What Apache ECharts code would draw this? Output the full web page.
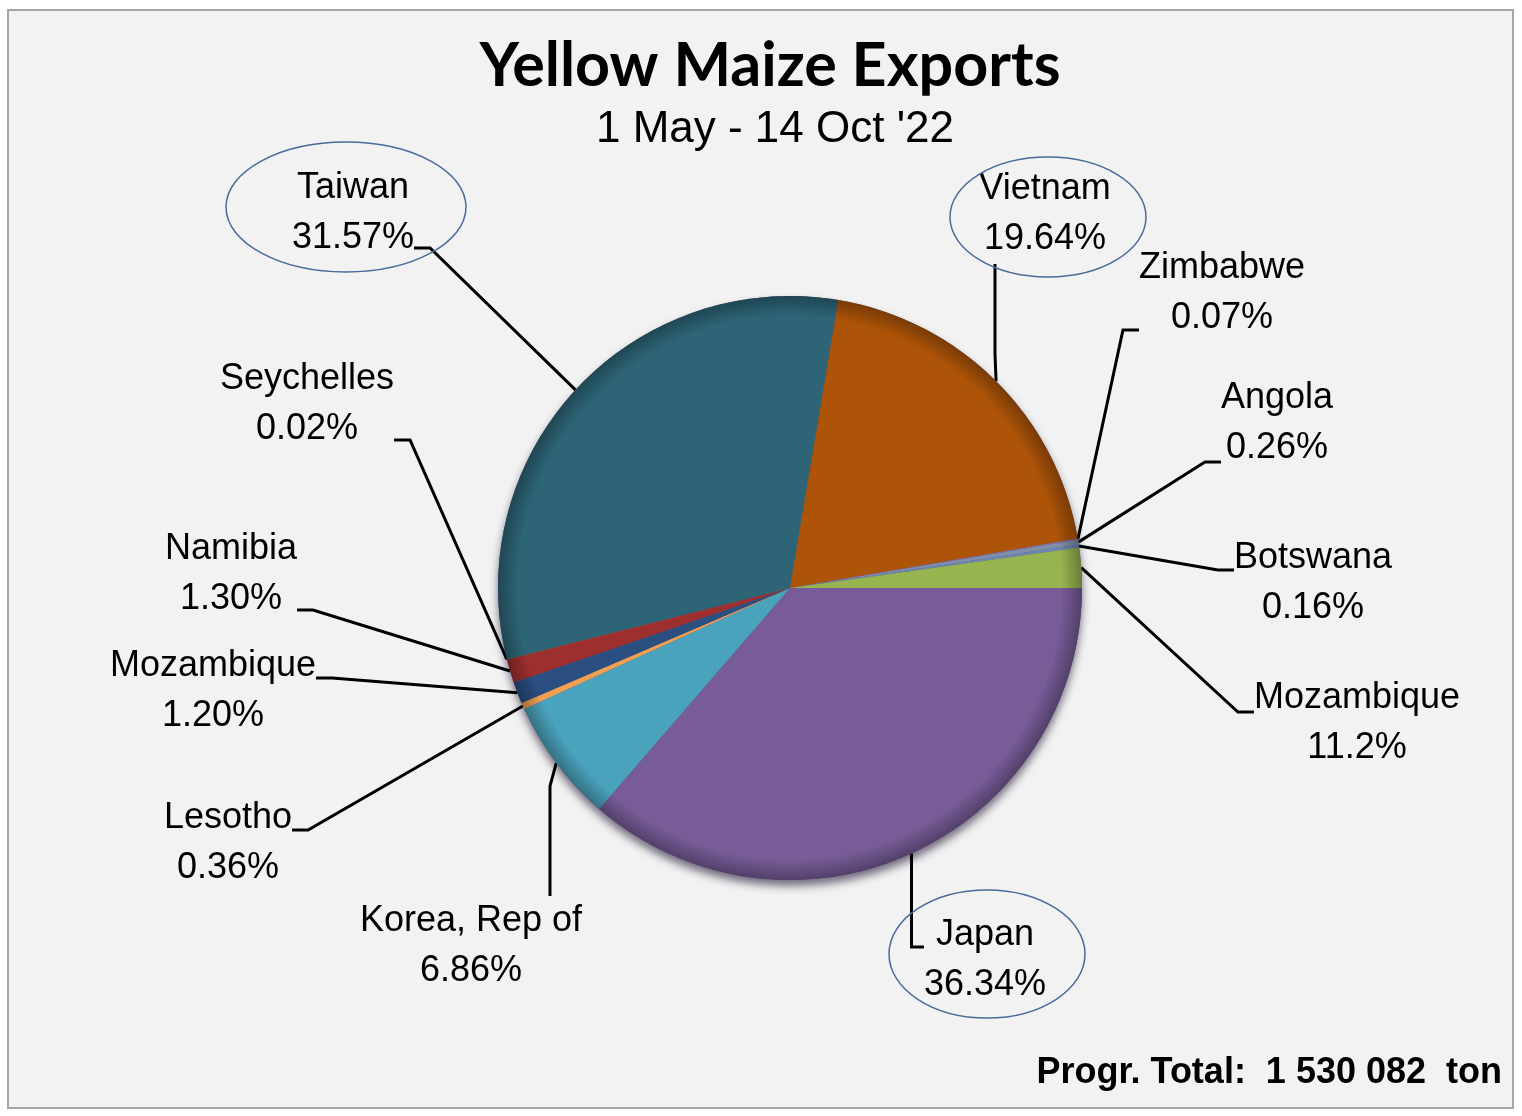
<!DOCTYPE html>
<html>
<head>
<meta charset="utf-8">
<title>Yellow Maize Exports</title>
<script src="https://cdn.jsdelivr.net/npm/echarts@6/dist/echarts.min.js"></script>
<style>
  html, body { margin: 0; padding: 0; background: #ffffff; }
  #chart { width: 1522px; height: 1116px; }
</style>
</head>
<body>
<div id="chart"></div>
<script>
// slices in clockwise order starting at 3 o'clock
const countries = ['Japan', 'Korea, Rep of', 'Lesotho', 'Mozambique', 'Namibia', 'Seychelles',
  'Taiwan', 'Vietnam', 'Zimbabwe', 'Angola', 'Botswana', 'Mozambique']
const shares = [36.34, 6.86, 0.36, 1.20, 1.30, 0.02, 31.57, 19.64, 0.07, 0.26, 0.16, 2.22]
// percentages as printed on the labels
const pctLabels = ['36.34%', '6.86%', '0.36%', '1.20%', '1.30%', '0.02%',
  '31.57%', '19.64%', '0.07%', '0.26%', '0.16%', '11.2%']

const colors = ['#775c98', '#4aa3bd', '#f0a050', '#2a4f80', '#9e2f2f', '#6e8a3a',
  '#2d6577', '#ad5408', '#8a6fa8', '#7f8fa9', '#6b87b8', '#98b450']

// text centres of the labels (px)
const labelPos = [
  [985, 960], [471, 946], [228, 843], [213, 691], [231, 574], [307, 404],
  [353, 213], [1045, 214], [1222, 293], [1277, 423], [1313, 583], [1357, 723]
]
// empty space [t, r, b, l] round each label so the leader line docks where the original does
// (t/b become spacer lines, r/l become padding)
const labelPad = [
  [26, 200, 0, 0], [0, 158, 0, 0], [26, 0, 0, 0], [26, 0, 0, 0], [0, 0, 72, 0], [0, 0, 72, 80],
  [0, 0, 70, 40], [0, 0, 0, 100], [0, 140, 74, 0], [0, 0, 78, 0], [26, 0, 0, 0], [22, 0, 0, 0]
]
const leaderLen = [16, 110, 16, 16, 16, 16, 16, 90, 16, 16, 16, 16]

const cx = 790, cy = 588, R = 292
const labelFont = 'Liberation Sans'

function darker(hex, k) {
  const n = parseInt(hex.slice(1), 16)
  const r = Math.round(((n >> 16) & 255) * k)
  const g = Math.round(((n >> 8) & 255) * k)
  const b = Math.round((n & 255) * k)
  return 'rgb(' + r + ',' + g + ',' + b + ')'
}

const pieData = shares.map((v, i) => {
  const pad = labelPad[i]
  return {
    name: countries[i],
    value: v,
    label: {
      padding: [0, pad[1], 0, pad[3]],
      rich: {
        t: { fontFamily: labelFont, fontSize: 36, lineHeight: 50, color: '#000' },
        top: { fontSize: 1, lineHeight: pad[0] || 1 },
        bot: { fontSize: 1, lineHeight: pad[2] || 1 }
      }
    },
    labelLine: { length2: leaderLen[i] },
    itemStyle: {
      color: {
        type: 'radial', x: cx, y: cy, r: R, global: true,
        colorStops: [
          { offset: 0, color: colors[i] },
          { offset: 0.93, color: colors[i] },
          { offset: 1, color: darker(colors[i], 0.7) }
        ]
      }
    }
  }
})

function labelText(p) {
  const pad = labelPad[p.dataIndex]
  let s = '{t|' + p.name + '}\n{t|' + pctLabels[p.dataIndex] + '}'
  if (pad[0]) s = '{top| }\n' + s
  if (pad[2]) s = s + '\n{bot| }'
  return s
}

const chart = echarts.init(document.getElementById('chart'))
chart.setOption({
  animation: false,
  graphic: [
    {
      type: 'rect', z: -10, silent: true,
      shape: { x: 8, y: 10, width: 1505, height: 1098 },
      style: { fill: '#f2f2f2', stroke: '#a6a6a6', lineWidth: 2 }
    },
    {
      type: 'text', x: 770, y: 66,
      style: { text: 'Yellow Maize Exports', fontFamily: 'Lato', fontWeight: 'bold', fontSize: 61, fill: '#000', align: 'center', verticalAlign: 'middle' }
    },
    {
      type: 'text', x: 775, y: 130,
      style: { text: "1 May - 14 Oct '22", fontFamily: labelFont, fontSize: 44, fill: '#000', align: 'center', verticalAlign: 'middle' }
    },
    {
      type: 'text', x: 1502, y: 1073,
      style: { text: 'Progr. Total:  1 530 082  ton', fontFamily: labelFont, fontWeight: 'bold', fontSize: 36, fill: '#000', align: 'right', verticalAlign: 'middle' }
    },
    // highlight ellipses round the three biggest labels
    { type: 'ellipse', z: 10, shape: { cx: 346, cy: 207, rx: 120, ry: 65 }, style: { fill: 'none', stroke: '#4a6a9c', lineWidth: 1.5 } },
    { type: 'ellipse', z: 10, shape: { cx: 1048, cy: 217, rx: 98, ry: 60 }, style: { fill: 'none', stroke: '#4a6a9c', lineWidth: 1.5 } },
    { type: 'ellipse', z: 10, shape: { cx: 987, cy: 954, rx: 98, ry: 64 }, style: { fill: 'none', stroke: '#4a6a9c', lineWidth: 1.5 } }
  ],
  series: [
    {
      // soft drop shadow under the pie
      type: 'pie', z: 1, silent: true,
      center: [cx, cy], radius: R,
      label: { show: false }, labelLine: { show: false },
      itemStyle: { color: '#5a4a70', shadowBlur: 8, shadowOffsetY: 6, shadowColor: 'rgba(30,20,50,0.6)' },
      data: [{ value: 1 }]
    },
    {
      type: 'pie', z: 2,
      center: [cx, cy], radius: R,
      startAngle: 0, clockwise: true,
      avoidLabelOverlap: false,
      itemStyle: { borderWidth: 0 },
      label: {
        show: true,
        position: 'outside',
        formatter: labelText,
        fontFamily: labelFont,
        fontSize: 36,
        color: '#000',
        backgroundColor: 'rgba(0,0,0,0)'
      },
      labelLine: {
        show: true, length: 10, length2: 16,
        lineStyle: { color: '#000', width: 3 }
      },
      labelLayout: function (params) {
        const i = params.dataIndex
        const p = labelPos[i], pad = labelPad[i]
        return {
          x: p[0] - (pad[3] - pad[1]) / 2,
          y: p[1] - (pad[0] - pad[2]) / 2,
          align: 'center',
          verticalAlign: 'middle'
        }
      },
      data: pieData
    }
  ]
})
</script>
</body>
</html>
